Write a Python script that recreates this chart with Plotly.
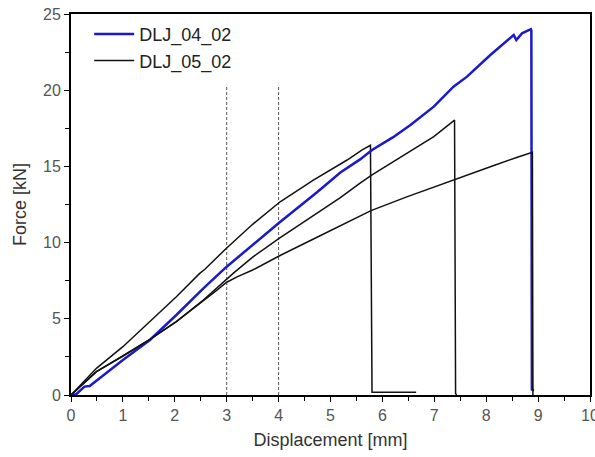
import plotly.graph_objects as go

# DLJ_04_02 (blue)
x_0402 = [0, 0.1, 0.26, 0.36, 1.0, 1.52, 2.03, 2.55, 3.0, 3.5, 4.01, 4.74, 5.19, 5.57, 5.80, 6.2, 6.54, 6.99, 7.37, 7.63, 8.08, 8.53, 8.58, 8.69, 8.86, 8.87, 8.88, 8.92]
y_0402 = [0, 0.05, 0.55, 0.59, 2.3, 3.61, 5.25, 7.0, 8.42, 9.85, 11.3, 13.3, 14.6, 15.46, 16.08, 16.9, 17.72, 18.92, 20.23, 20.89, 22.31, 23.62, 23.29, 23.73, 24.0, 23.9, 0.35, 0.3]

# DLJ_05_02 specimens (black)
x_0502a = [0, 0.49, 1.0, 1.52, 2.03, 2.48, 2.58, 3.0, 3.5, 4.03, 4.67, 5.32, 5.61, 5.77, 5.79, 5.80, 6.65]
y_0502a = [0, 1.75, 3.17, 4.81, 6.45, 7.98, 8.25, 9.65, 11.2, 12.68, 14.1, 15.42, 16.08, 16.38, 0.2, 0.18, 0.18]

x_0502b = [0, 0.49, 1.0, 1.52, 2.03, 2.55, 3.13, 3.5, 4.01, 4.74, 5.19, 5.57, 5.80, 6.47, 6.99, 7.39, 7.41, 7.43]
y_0502b = [0, 1.53, 2.56, 3.65, 4.81, 6.23, 8.0, 9.05, 10.28, 11.92, 12.95, 13.9, 14.45, 15.85, 16.95, 18.04, 0.1, 0.0]

x_0502c = [0, 0.49, 1.0, 1.52, 2.03, 2.55, 2.8, 3.0, 3.2, 3.5, 4.01, 4.74, 5.19, 5.78, 6.47, 7.4, 8.08, 8.60, 8.89, 8.90]
y_0502c = [0, 1.53, 2.56, 3.65, 4.81, 6.15, 6.85, 7.4, 7.75, 8.2, 9.12, 10.35, 11.1, 12.1, 13.0, 14.17, 14.98, 15.6, 15.92, 0.0]

# dashed reference lines
ref_x = [3, 4]
ref_top = 20.3

x_ticks = [0, 1, 2, 3, 4, 5, 6, 7, 8, 9, 10]
y_ticks = [0, 5, 10, 15, 20, 25]

fig = go.Figure()
for rx in ref_x:
    fig.add_trace(go.Scatter(x=[rx, rx], y=[0, ref_top], mode="lines",
                             line=dict(color="#555555", width=1, dash="3px,2px"),
                             showlegend=False, hoverinfo="skip"))

fig.add_trace(go.Scatter(x=x_0502a, y=y_0502a, mode="lines", name="DLJ_05_02",
                         line=dict(color="#111111", width=1.5), showlegend=False))
fig.add_trace(go.Scatter(x=x_0502b, y=y_0502b, mode="lines", name="DLJ_05_02",
                         line=dict(color="#111111", width=1.5), showlegend=False))
fig.add_trace(go.Scatter(x=x_0402, y=y_0402, mode="lines", name="DLJ_04_02",
                         line=dict(color="#1a1acc", width=2.5), legendrank=1))
fig.add_trace(go.Scatter(x=x_0502c, y=y_0502c, mode="lines", name="DLJ_05_02",
                         line=dict(color="#111111", width=1.5), legendrank=2))

axis_common = dict(showline=True, linecolor="black", linewidth=1.8, mirror=True,
                   ticks="outside", ticklen=5, tickwidth=1.2, tickcolor="black",
                   showgrid=False, zeroline=False, ticklabeloverflow="allow",
                   automargin=False,
                   tickfont=dict(family="Liberation Sans, Arial", size=16, color="#555555"),
                   title_font=dict(family="Liberation Sans, Arial", size=18, color="#333333"))

fig.update_xaxes(range=[0, 10], tickvals=x_ticks, ticktext=[str(t) for t in x_ticks],
                 minor=dict(dtick=0.5, ticks="outside", ticklen=4, tickcolor="black", tickwidth=1.2),
                 title_text="Displacement [mm]", title_standoff=10, **axis_common)
fig.update_yaxes(range=[0, 25], tickvals=y_ticks, ticktext=[str(t) for t in y_ticks],
                 minor=dict(dtick=2.5, ticks="outside", ticklen=4, tickcolor="black", tickwidth=1.2),
                 title_text="Force [kN]", title_standoff=12, **axis_common)

fig.update_layout(
    width=595, height=457,
    margin=dict(l=71, r=5, t=14, b=62, autoexpand=False),
    paper_bgcolor="white", plot_bgcolor="white",
    showlegend=True,
    legend=dict(x=0.035, y=0.995, xanchor="left", yanchor="top",
                bgcolor="rgba(0,0,0,0)", borderwidth=0,
                font=dict(family="Liberation Sans, Arial", size=18, color="#222222"),
                itemwidth=40, tracegroupgap=0),
)

fig.write_html("out.html")
